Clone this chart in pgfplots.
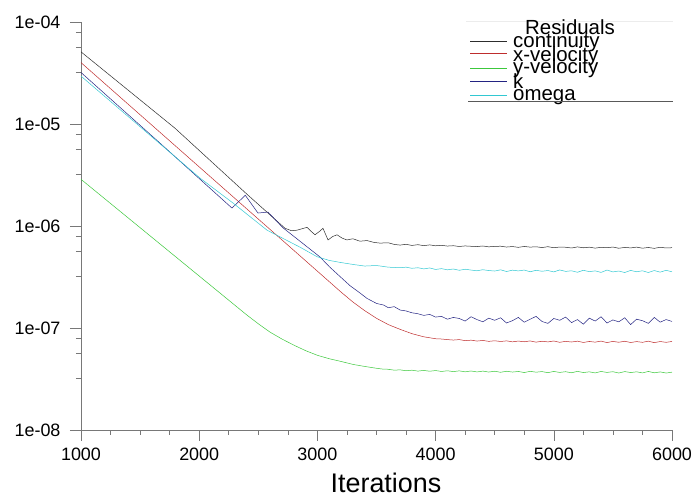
\documentclass[border=0pt]{standalone}
\usepackage{fontspec}
\setmainfont{Liberation Sans}
\usepackage{pgfplots}
\pgfplotsset{compat=1.18}
\definecolor{ccont}{RGB}{45,45,45}
\definecolor{cxvel}{RGB}{190,45,45}
\definecolor{cyvel}{RGB}{60,200,60}
\definecolor{ck}{RGB}{35,35,130}
\definecolor{comega}{RGB}{50,200,210}
\definecolor{caxis}{RGB}{120,120,120}
\begin{document}
\begin{tikzpicture}
\begin{axis}[
  name=ax, at={(0,0)}, anchor=south west,
  scale only axis, width=591bp, height=408bp,
  ymode=log, xmin=1000, xmax=6000, ymin=1e-8, ymax=1e-4,
  axis lines*=left,
  axis line style={caxis, line width=0.6pt},
  tick style={caxis, line width=0.6pt},
  tick align=outside,
  major tick length=11bp, minor tick length=5bp,
  xtick={1000,2000,3000,4000,5000,6000},
  xticklabels={1000,2000,3000,4000,5000,6000},
  minor x tick num=3,
  ytick={1e-8,1e-7,1e-6,1e-5,1e-4},
  yticklabels={1e-08,1e-07,1e-06,1e-05,1e-04},
  minor ytick={8e-5,5.6e-5,3.2e-5,8e-6,5.6e-6,3.2e-6,8e-7,5.6e-7,3.2e-7,8e-8,5.6e-8,3.2e-8},
  tick label style={font=\fontsize{18}{18}\selectfont},
  yticklabel style={xshift=-6bp},
  xticklabel style={yshift=-3bp},
  xlabel={Iterations},
  xlabel style={font=\fontsize{27}{27}\selectfont, at={(axis description cs:0.516,0)}, anchor=base, yshift=-62bp},
  every axis plot/.append style={no marks, line width=0.5pt},
]
% continuity
\addplot[ccont] coordinates {
(1000,5.1e-5)(1795,9.1e-6)(2404,2.05e-6)(2726,9.5e-7)(2780,9.0e-7)(2827,9.1e-7)(2870,9.4e-7)(2912,9.7e-7)(2950,8.8e-7)(2980,8.2e-7)(3020,8.9e-7)(3047,9.5e-7)(3090,7.3e-7)(3130,7.9e-7)(3166,8.2e-7)(3210,7.6e-7)(3250,7.3e-7)(3300,7.5e-7)(3360,7.1e-7)(3420,7.2e-7)(3480,6.9e-7)(3530,6.8e-7)(3600,6.85e-7)(3650,6.6e-7)(3700,6.5e-7)(3750,6.62e-7)(3800,6.45e-7)(3850,6.56e-7)(3900,6.42e-7)(3950,6.53e-7)
(4000,6.40e-7)(4050,6.46e-7)(4100,6.36e-7)(4150,6.41e-7)(4200,6.30e-7)(4250,6.38e-7)(4300,6.33e-7)(4350,6.29e-7)(4400,6.37e-7)(4450,6.25e-7)(4500,6.31e-7)(4550,6.34e-7)(4600,6.22e-7)(4650,6.29e-7)(4700,6.18e-7)(4750,6.30e-7)(4800,6.21e-7)(4850,6.26e-7)(4900,6.15e-7)(4950,6.27e-7)(5000,6.13e-7)(5050,6.22e-7)(5100,6.19e-7)(5150,6.09e-7)(5200,6.24e-7)(5250,6.12e-7)(5300,6.20e-7)(5350,6.07e-7)(5400,6.18e-7)(5450,6.13e-7)(5500,6.22e-7)(5550,6.05e-7)(5600,6.17e-7)(5650,6.10e-7)(5700,6.21e-7)(5750,6.06e-7)(5800,6.16e-7)(5850,6.04e-7)(5900,6.19e-7)(5950,6.09e-7)(6000,6.13e-7)
};
% x-velocity
\addplot[cxvel] coordinates {
(1000,4.0e-5)(3100,2.85e-7)(3200,2.25e-7)(3300,1.80e-7)(3400,1.48e-7)(3500,1.245e-7)(3600,1.08e-7)(3700,9.7e-8)(3800,8.8e-8)(3900,8.2e-8)(4000,7.85e-8)(4050,7.8e-8)(4100,7.7e-8)(4150,7.62e-8)(4200,7.7e-8)(4250,7.52e-8)(4300,7.6e-8)(4350,7.45e-8)(4400,7.55e-8)(4450,7.4e-8)(4500,7.5e-8)(4550,7.38e-8)(4600,7.48e-8)(4650,7.32e-8)(4700,7.45e-8)(4750,7.33e-8)(4800,7.47e-8)(4850,7.27e-8)(4900,7.42e-8)(4950,7.31e-8)(5000,7.46e-8)(5050,7.24e-8)(5100,7.4e-8)(5150,7.29e-8)(5200,7.43e-8)(5250,7.22e-8)(5300,7.38e-8)(5350,7.27e-8)(5400,7.44e-8)(5450,7.2e-8)(5500,7.39e-8)(5550,7.25e-8)(5600,7.42e-8)(5650,7.21e-8)(5700,7.36e-8)(5750,7.24e-8)(5800,7.43e-8)(5850,7.19e-8)(5900,7.37e-8)(5950,7.24e-8)(6000,7.38e-8)
};
% y-velocity
\addplot[cyvel] coordinates {
(1000,2.87e-6)(2400,1.35e-7)(2500,1.10e-7)(2600,9.1e-8)(2700,7.8e-8)(2800,6.8e-8)(2900,6.0e-8)(3000,5.4e-8)(3100,5.0e-8)(3200,4.7e-8)(3300,4.4e-8)(3400,4.2e-8)(3500,4.03e-8)(3550,3.96e-8)(3600,3.94e-8)(3650,3.86e-8)(3700,3.89e-8)(3750,3.81e-8)(3800,3.86e-8)(3850,3.78e-8)(3900,3.84e-8)(3950,3.77e-8)(4000,3.83e-8)(4050,3.75e-8)(4100,3.81e-8)(4150,3.74e-8)(4200,3.8e-8)(4250,3.72e-8)(4300,3.79e-8)(4350,3.71e-8)(4400,3.78e-8)(4450,3.7e-8)(4500,3.77e-8)(4550,3.68e-8)(4600,3.77e-8)(4650,3.7e-8)(4700,3.75e-8)(4750,3.66e-8)(4800,3.76e-8)(4850,3.69e-8)(4900,3.74e-8)(4950,3.65e-8)(5000,3.75e-8)(5050,3.67e-8)(5100,3.73e-8)(5150,3.64e-8)(5200,3.76e-8)(5250,3.66e-8)(5300,3.72e-8)(5350,3.63e-8)(5400,3.75e-8)(5450,3.67e-8)(5500,3.73e-8)(5550,3.62e-8)(5600,3.74e-8)(5650,3.66e-8)(5700,3.72e-8)(5750,3.63e-8)(5800,3.75e-8)(5850,3.64e-8)(5900,3.71e-8)(5950,3.62e-8)(6000,3.69e-8)
};
% k
\addplot[ck] coordinates {
(1000,3.2e-5)(1668,6.5e-6)(2277,1.5e-6)(2390,2.0e-6)(2497,1.34e-6)(2582,1.37e-6)(2709,9.6e-7)(3022,4.97e-7)(3100,4.0e-7)(3191,3.2e-7)(3276,2.6e-7)(3350,2.25e-7)(3420,1.95e-7)(3501,1.74e-7)(3560,1.68e-7)(3600,1.58e-7)(3650,1.62e-7)(3700,1.50e-7)(3750,1.47e-7)(3800,1.41e-7)(3850,1.38e-7)(3900,1.33e-7)(3950,1.36e-7)
(4000,1.28e-7)(4050,1.30e-7)(4100,1.22e-7)(4150,1.27e-7)(4200,1.24e-7)(4250,1.17e-7)(4300,1.29e-7)(4350,1.21e-7)(4400,1.15e-7)(4450,1.25e-7)(4500,1.19e-7)(4550,1.26e-7)(4600,1.12e-7)(4650,1.18e-7)(4700,1.27e-7)(4750,1.14e-7)(4800,1.22e-7)(4850,1.30e-7)(4900,1.16e-7)(4950,1.11e-7)(5000,1.24e-7)(5050,1.19e-7)(5100,1.28e-7)(5150,1.13e-7)(5200,1.21e-7)(5250,1.09e-7)(5300,1.25e-7)(5350,1.17e-7)(5400,1.29e-7)(5450,1.12e-7)(5500,1.20e-7)(5550,1.15e-7)(5600,1.26e-7)(5650,1.08e-7)(5700,1.22e-7)(5750,1.18e-7)(5800,1.11e-7)(5850,1.27e-7)(5900,1.14e-7)(5950,1.21e-7)(6000,1.16e-7)
};
% omega
\addplot[comega] coordinates {
(1000,2.95e-5)(2007,2.95e-6)(2286,1.68e-6)(2574,9.1e-7)(2853,6.2e-7)(2997,5.0e-7)(3100,4.6e-7)(3191,4.4e-7)(3301,4.2e-7)(3400,4.05e-7)(3500,4.1e-7)(3600,3.95e-7)(3699,3.9e-7)(3750,3.95e-7)(3800,3.85e-7)(3850,3.9e-7)(3900,3.8e-7)(3950,3.88e-7)(4000,3.75e-7)(4050,3.82e-7)(4100,3.72e-7)(4150,3.79e-7)(4200,3.68e-7)(4250,3.77e-7)(4300,3.7e-7)(4350,3.64e-7)(4400,3.73e-7)(4450,3.66e-7)(4500,3.62e-7)(4550,3.72e-7)(4600,3.58e-7)(4650,3.69e-7)(4700,3.63e-7)(4750,3.7e-7)(4800,3.56e-7)(4850,3.68e-7)(4900,3.6e-7)(4950,3.66e-7)(5000,3.55e-7)(5050,3.71e-7)(5100,3.59e-7)(5150,3.64e-7)(5200,3.52e-7)(5250,3.68e-7)(5300,3.57e-7)(5350,3.63e-7)(5400,3.51e-7)(5450,3.7e-7)(5500,3.55e-7)(5550,3.62e-7)(5600,3.5e-7)(5650,3.67e-7)(5700,3.56e-7)(5750,3.64e-7)(5800,3.5e-7)(5850,3.66e-7)(5900,3.53e-7)(5950,3.68e-7)(6000,3.56e-7)
};
\end{axis}
% legend (drawn in bp relative to the axis' south west corner)
\draw[gray!15, line width=0.5pt] (385bp,409bp) -- (592bp,409bp);
\node[anchor=base, inner sep=0pt, font=\fontsize{20.5}{20.5}\selectfont] at (489bp,395bp) {Residuals};
\begin{scope}[line width=0.6pt]
\draw[ccont]  (389bp,388.3bp) -- (426bp,388.3bp);
\draw[cxvel]  (389bp,376.7bp) -- (426bp,376.7bp);
\draw[cyvel]  (389bp,361.7bp) -- (426bp,361.7bp);
\draw[ck]     (389bp,349bp) -- (426bp,349bp);
\draw[comega] (389bp,335bp) -- (426bp,335bp);
\end{scope}
\begin{scope}[every node/.style={anchor=base west, inner sep=0pt, font=\fontsize{20.5}{20.5}\selectfont}]
\node at (432bp,382.3bp) {continuity};
\node at (432bp,368.3bp) {x-velocity};
\node at (432bp,356bp) {y-velocity};
\node at (432bp,341.7bp) {k};
\node at (432bp,329bp) {omega};
\end{scope}
\draw[gray!70!black, line width=0.6pt] (387bp,329bp) -- (592bp,329bp);
\pgfresetboundingbox
\path (-81bp,-67bp) rectangle (616bp,430bp);
\end{tikzpicture}
\end{document}
